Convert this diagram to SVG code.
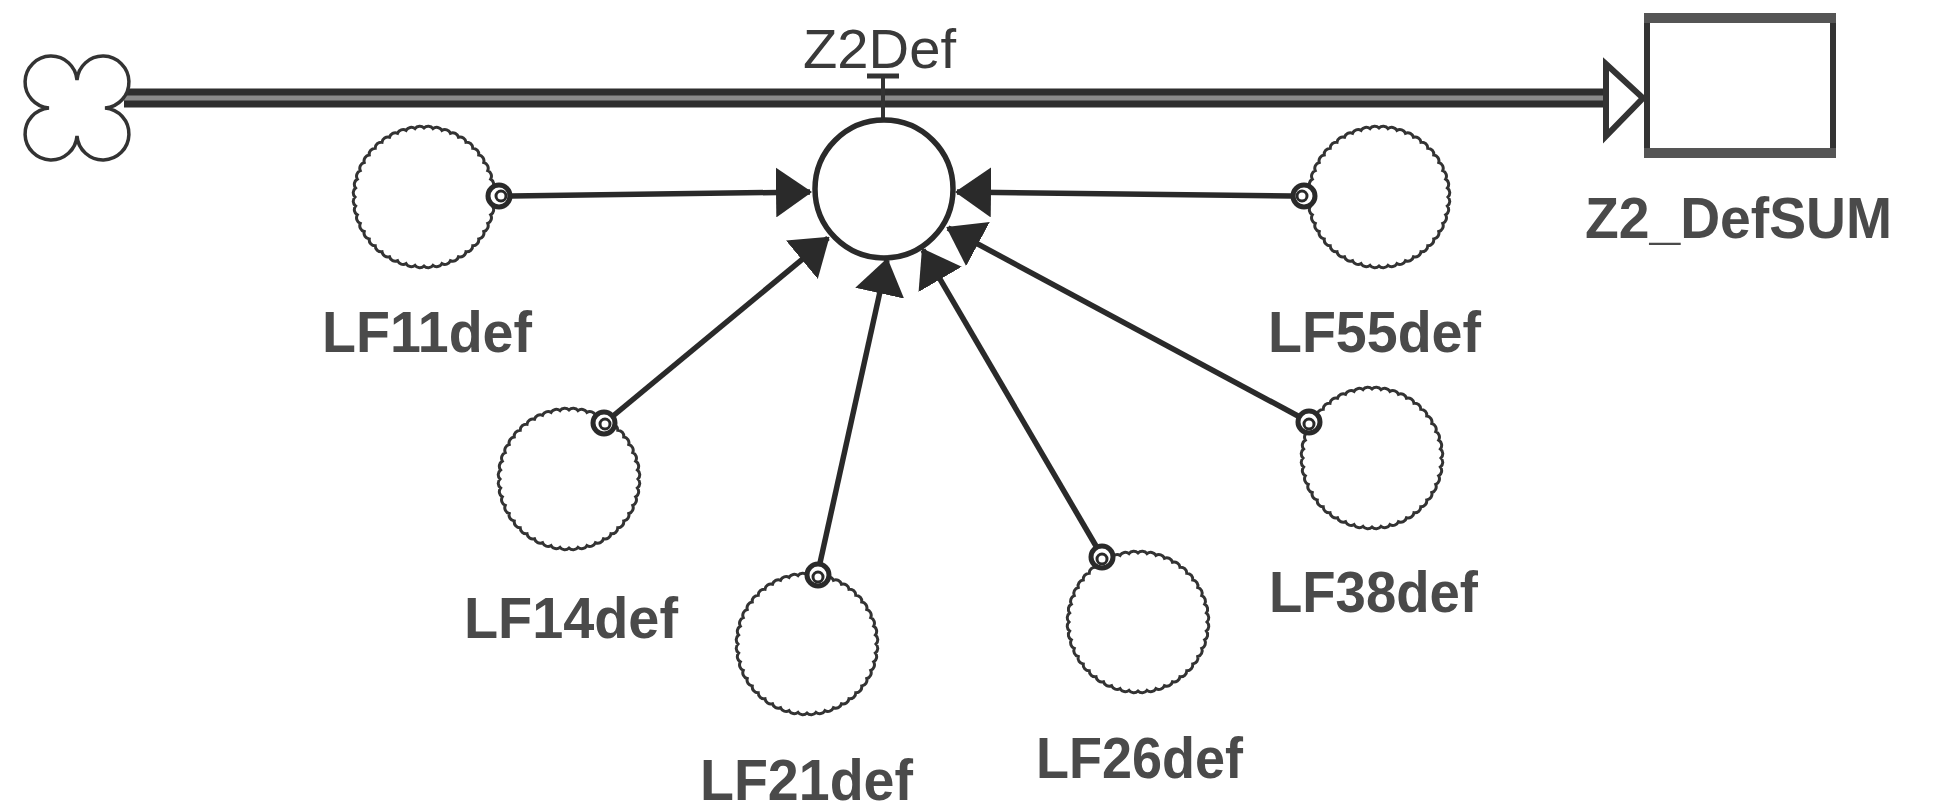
<svg xmlns="http://www.w3.org/2000/svg" xmlns:xlink="http://www.w3.org/1999/xlink" width="1939" height="811" viewBox="0 0 1939 811">
<style>
.lbl{font-family:"Liberation Sans",Arial,sans-serif;font-size:57px;font-weight:bold;fill:#4a4a4a}
.lbln{font-family:"Liberation Sans",Arial,sans-serif;font-size:56px;fill:#3a3a3a}
.wavy{fill:#fff;stroke:#333;stroke-width:3}
.src{fill:#fff;stroke:#2a2a2a;stroke-width:5}
.srci{fill:none;stroke:#2a2a2a;stroke-width:3}
.link{stroke:#2a2a2a;stroke-width:5.5;fill:none;marker-end:url(#ah)}
.pipe{stroke:#2e2e2e;stroke-width:7;fill:none}
</style>
<defs>
<marker id="ah" markerUnits="userSpaceOnUse" viewBox="0 0 36 50" markerWidth="36" markerHeight="50" refX="34" refY="25" orient="auto">
<path d="M0,0 L36,25 L0,50 Z" fill="#2a2a2a"/>
</marker>
<path id="wc" d="M69,0 A6 6 0 0 1 68.41,9.01 A6 6 0 0 1 66.65,17.86 A6 6 0 0 1 63.75,26.40 A6 6 0 0 1 59.76,34.5 A6 6 0 0 1 54.74,42.00 A6 6 0 0 1 48.79,48.79 A6 6 0 0 1 42.00,54.74 A6 6 0 0 1 34.5,59.76 A6 6 0 0 1 26.40,63.75 A6 6 0 0 1 17.86,66.65 A6 6 0 0 1 9.01,68.41 A6 6 0 0 1 0,69 A6 6 0 0 1 -9.01,68.41 A6 6 0 0 1 -17.86,66.65 A6 6 0 0 1 -26.40,63.75 A6 6 0 0 1 -34.5,59.76 A6 6 0 0 1 -42.00,54.74 A6 6 0 0 1 -48.79,48.79 A6 6 0 0 1 -54.74,42.00 A6 6 0 0 1 -59.76,34.5 A6 6 0 0 1 -63.75,26.40 A6 6 0 0 1 -66.65,17.86 A6 6 0 0 1 -68.41,9.01 A6 6 0 0 1 -69,0 A6 6 0 0 1 -68.41,-9.01 A6 6 0 0 1 -66.65,-17.86 A6 6 0 0 1 -63.75,-26.40 A6 6 0 0 1 -59.76,-34.5 A6 6 0 0 1 -54.74,-42.00 A6 6 0 0 1 -48.79,-48.79 A6 6 0 0 1 -42.00,-54.74 A6 6 0 0 1 -34.5,-59.76 A6 6 0 0 1 -26.40,-63.75 A6 6 0 0 1 -17.86,-66.65 A6 6 0 0 1 -9.01,-68.41 A6 6 0 0 1 0,-69 A6 6 0 0 1 9.01,-68.41 A6 6 0 0 1 17.86,-66.65 A6 6 0 0 1 26.40,-63.75 A6 6 0 0 1 34.5,-59.76 A6 6 0 0 1 42.00,-54.74 A6 6 0 0 1 48.79,-48.79 A6 6 0 0 1 54.74,-42.00 A6 6 0 0 1 59.76,-34.5 A6 6 0 0 1 63.75,-26.40 A6 6 0 0 1 66.65,-17.86 A6 6 0 0 1 68.41,-9.01 A6 6 0 0 1 69,0 Z"/>
</defs>
<rect width="1939" height="811" fill="#fff"/>

<g id="flow">
<rect x="124" y="95" width="1482" height="6" fill="#8a8a8a"/>
<line class="pipe" x1="124" y1="92" x2="1606" y2="92"/>
<line class="pipe" x1="124" y1="104" x2="1606" y2="104"/>
<path d="M1606,64 L1643,98 L1606,136 Z" fill="#fff" stroke="#333" stroke-width="6" stroke-linejoin="miter"/>
<line x1="883" y1="76" x2="883" y2="121" stroke="#333" stroke-width="4"/>
<line x1="867" y1="76" x2="899" y2="76" stroke="#333" stroke-width="5"/>
</g>

<g id="cloud">
<path d="M77,80 A26 26 0 1 1 105,108 A26 26 0 1 1 77,136 A26 26 0 1 1 49,108 A26 26 0 1 1 77,80 Z" fill="#fff" stroke="#333" stroke-width="3.5"/>
</g>

<g id="Z2_DefSUM">
<rect x="1647" y="18" width="186" height="135" fill="#fff" stroke="#333" stroke-width="6"/>
<rect x="1644" y="13" width="192" height="10" fill="#555"/>
<rect x="1644" y="148" width="192" height="10" fill="#555"/>
<text class="lbl" x="1585" y="238" textLength="307" lengthAdjust="spacingAndGlyphs">Z2_DefSUM</text>
</g>

<g id="connectors">
<line class="link" x1="511" y1="196" x2="810" y2="192"/>
<line class="link" x1="1292" y1="196" x2="957" y2="192"/>
<line class="link" x1="613" y1="416" x2="828" y2="238"/>
<line class="link" x1="820" y1="563" x2="887" y2="260"/>
<line class="link" x1="1096" y1="546" x2="923" y2="250"/>
<line class="link" x1="1298" y1="416" x2="948" y2="228"/>
</g>

<g id="Z2Def">
<circle cx="884" cy="189" r="69" fill="#fff" stroke="#2a2a2a" stroke-width="5.5"/>
<text class="lbln" x="803" y="68" textLength="153" lengthAdjust="spacingAndGlyphs">Z2Def</text>
</g>

<g id="LF11def">
<use xlink:href="#wc" class="wavy" transform="translate(424,197)"/>
<circle class="src" cx="499" cy="196" r="11"/><circle class="srci" cx="501" cy="196" r="5"/>
<text class="lbl" x="322" y="352" textLength="210" lengthAdjust="spacingAndGlyphs">LF11def</text>
</g>

<g id="LF55def">
<use xlink:href="#wc" class="wavy" transform="translate(1379,197)"/>
<circle class="src" cx="1304" cy="196" r="11"/><circle class="srci" cx="1302" cy="196" r="5"/>
<text class="lbl" x="1268" y="352" textLength="213" lengthAdjust="spacingAndGlyphs">LF55def</text>
</g>

<g id="LF14def">
<use xlink:href="#wc" class="wavy" transform="translate(569,479)"/>
<circle class="src" cx="604" cy="423" r="11"/><circle class="srci" cx="605" cy="424" r="5"/>
<text class="lbl" x="464" y="638" textLength="214" lengthAdjust="spacingAndGlyphs">LF14def</text>
</g>

<g id="LF21def">
<use xlink:href="#wc" class="wavy" transform="translate(807,644)"/>
<circle class="src" cx="818" cy="575" r="11"/><circle class="srci" cx="818" cy="577" r="5"/>
<text class="lbl" x="700" y="800" textLength="213" lengthAdjust="spacingAndGlyphs">LF21def</text>
</g>

<g id="LF26def">
<use xlink:href="#wc" class="wavy" transform="translate(1138,622)"/>
<circle class="src" cx="1102" cy="557" r="11"/><circle class="srci" cx="1102" cy="559" r="5"/>
<text class="lbl" x="1036" y="778" textLength="207" lengthAdjust="spacingAndGlyphs">LF26def</text>
</g>

<g id="LF38def">
<use xlink:href="#wc" class="wavy" transform="translate(1372,458)"/>
<circle class="src" cx="1309" cy="422" r="11"/><circle class="srci" cx="1309" cy="424" r="5"/>
<text class="lbl" x="1269" y="612" textLength="209" lengthAdjust="spacingAndGlyphs">LF38def</text>
</g>
</svg>
